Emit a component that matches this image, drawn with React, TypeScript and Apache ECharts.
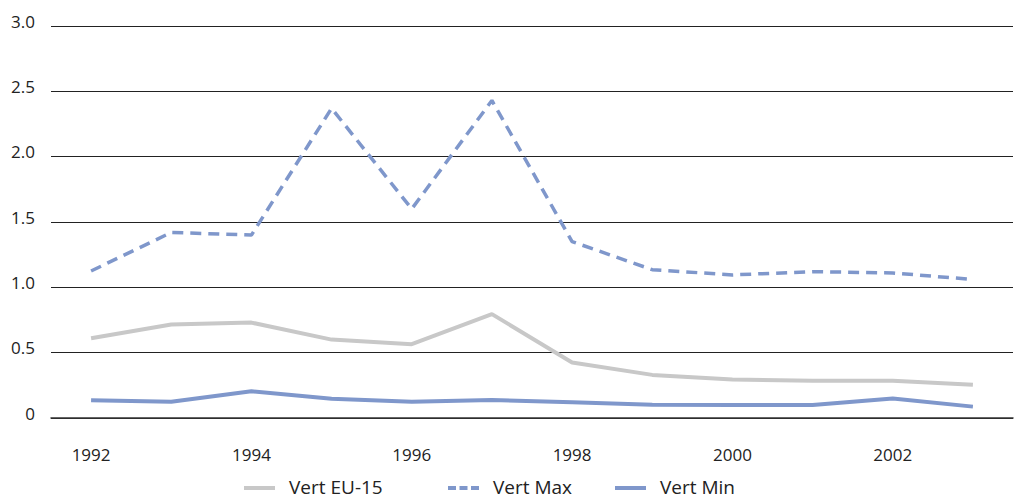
import React, { useEffect, useRef } from "react";
import * as echarts from "echarts";

const years = ["1992", "1993", "1994", "1995", "1996", "1997", "1998", "1999", "2000", "2001", "2002", "2003"];
const vertEU15 = [0.61, 0.715, 0.73, 0.6, 0.565, 0.795, 0.425, 0.33, 0.295, 0.285, 0.285, 0.255];
const vertMax = [1.125, 1.42, 1.4, 2.37, 1.6, 2.43, 1.35, 1.135, 1.095, 1.12, 1.11, 1.06];
const vertMin = [0.135, 0.125, 0.205, 0.148, 0.125, 0.138, 0.12, 0.102, 0.1, 0.1, 0.15, 0.087];
const yTicks = { min: 0, max: 3, interval: 0.5 };
const legendNames = ["Vert EU-15", "Vert Max", "Vert Min"];

const FONT = "'Open Sans', 'Noto Sans', sans-serif";
const GREY = "#c8c8c8";
const BLUE = "#7f97cb";

export default function App() {
  const ref = useRef<HTMLDivElement>(null);
  useEffect(() => {
    if (!ref.current) return;
    const chart = echarts.init(ref.current, null, { renderer: "svg" });
    const legendY = 488;
    const legendItems = [
      { name: legendNames[0], x: 244, color: GREY, dash: null as null | number[] },
      { name: legendNames[1], x: 448, color: BLUE, dash: [8, 3.5] },
      { name: legendNames[2], x: 615, color: BLUE, dash: null as null | number[] },
    ];
    const graphic: any[] = [];
    legendItems.forEach((it) => {
      graphic.push({
        type: "line",
        shape: { x1: it.x, y1: legendY, x2: it.x + 31, y2: legendY },
        style: { stroke: it.color, lineWidth: 4, lineDash: it.dash || undefined },
        silent: true,
      });
      graphic.push({
        type: "text",
        x: it.x + 45,
        y: legendY - 1,
        style: {
          text: it.name,
          fontFamily: FONT,
          fontSize: 19,
          lineHeight: 18,
          fill: "#222",
          verticalAlign: "middle",
          align: "left",
        },
        silent: true,
      });
    });
    chart.setOption({
      animation: false,
      grid: { left: 51, right: 2, top: 26, bottom: 81 },
      graphic,
      xAxis: {
        type: "category",
        data: years,
        boundaryGap: true,
        axisLine: { lineStyle: { color: "#333", width: 1.5 } },
        axisTick: { inside: true, length: 10, interval: 0, lineStyle: { color: "#333", width: 1.5 } },
        axisLabel: { interval: 1, margin: 28, fontFamily: FONT, fontSize: 17, color: "#222" },
        splitLine: { show: false },
      },
      yAxis: {
        type: "value",
        min: yTicks.min,
        max: yTicks.max,
        interval: yTicks.interval,
        axisLine: { show: false },
        axisTick: { show: false },
        splitLine: { lineStyle: { color: "#222", width: 1 } },
        axisLabel: {
          margin: 16,
          fontFamily: FONT,
          fontSize: 17,
          color: "#222",
          verticalAlign: "bottom",
          lineHeight: 10,
          formatter: (v: number) => (v === 0 ? "0" : v.toFixed(1)),
        },
      },
      series: [
        {
          name: "Vert EU-15",
          type: "line",
          data: vertEU15,
          symbol: "none",
          lineStyle: { color: GREY, width: 4 },
          itemStyle: { color: GREY },
        },
        {
          name: "Vert Max",
          type: "line",
          data: vertMax,
          symbol: "none",
          lineStyle: { color: BLUE, width: 3.5, type: [11, 7] },
          itemStyle: { color: BLUE },
        },
        {
          name: "Vert Min",
          type: "line",
          data: vertMin,
          symbol: "none",
          lineStyle: { color: BLUE, width: 4 },
          itemStyle: { color: BLUE },
        },
      ],
    });
    return () => chart.dispose();
  }, []);
  return <div ref={ref} style={{ width: 1015, height: 499, position: "absolute", left: 0, top: 0 }} />;
}
